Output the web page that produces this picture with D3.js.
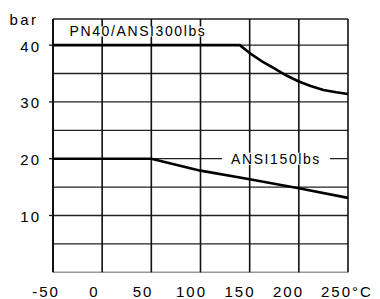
<!DOCTYPE html>
<html><head><meta charset="utf-8">
<script src="https://cdn.jsdelivr.net/npm/d3@7"></script>
<style>body{margin:0;background:#fff}svg{display:block}text{font-family:"Liberation Sans",Arial,sans-serif;fill:#000}</style>
</head><body><svg id="c" width="380" height="299"></svg>
<script>
const xTicks = [-50, 0, 50, 100, 150, 200, 250];
const yTicks = [10, 20, 30, 40];
const yGrid = [5, 10, 15, 20, 25, 30, 35, 40];
const pn40Temp = [-50, 140, 150, 162, 175, 188, 200, 212, 225, 238, 250];
const pn40Bar = [40, 40, 38.6, 37.2, 35.9, 34.6, 33.6, 32.8, 32.1, 31.7, 31.4];
const ansi150Temp = [-50, 50, 100, 150, 200, 250];
const ansi150Bar = [20, 20, 17.9, 16.4, 14.8, 13.1];
const xUnit = "°C", yUnit = "bar";
const label300 = "PN40/ANSI300lbs", label150 = "ANSI150lbs";

const svg = d3.select("#c");
const x = d3.scaleLinear().domain([-50, 250]).range([53, 348]);
const y = d3.scaleLinear().domain([0, 44.6]).range([272.3, 19]);
const xLab = d3.scaleLinear().domain([-50, 250]).range([46, 337]);

svg.append("g").selectAll("line").data(yGrid).join("line")
  .attr("x1", x(-50)).attr("x2", x(250)).attr("y1", d => y(d)).attr("y2", d => y(d))
  .attr("stroke", "#222").attr("stroke-width", 1.3);
svg.append("line").attr("x1", x(-50)).attr("x2", x(250)).attr("y1", y(44.6)).attr("y2", y(44.6))
  .attr("stroke", "#222").attr("stroke-width", 1.3);
svg.append("line").attr("x1", x(-50)).attr("x2", x(250)).attr("y1", y(0)).attr("y2", y(0))
  .attr("stroke", "#999").attr("stroke-width", 1.5);
svg.append("g").selectAll("line").data(xTicks).join("line")
  .attr("x1", d => x(d)).attr("x2", d => x(d)).attr("y1", y(44.6)).attr("y2", y(0))
  .attr("stroke", "#111").attr("stroke-width", d => d === -50 ? 2 : 1.6);
svg.append("g").selectAll("line").data(yTicks).join("line")
  .attr("x1", x(-50) - 4).attr("x2", x(-50)).attr("y1", d => y(d)).attr("y2", d => y(d))
  .attr("stroke", "#111").attr("stroke-width", 1.3);

const line = d3.line().x(d => x(d[0])).y(d => y(d[1])).curve(d3.curveLinear);
svg.append("path").datum(pn40Temp.map((t, i) => [t, pn40Bar[i]])).attr("d", line)
  .attr("fill", "none").attr("stroke", "#000").attr("stroke-width", 2.6).attr("stroke-linejoin", "round");
svg.append("path").datum(ansi150Temp.map((t, i) => [t, ansi150Bar[i]])).attr("d", line)
  .attr("fill", "none").attr("stroke", "#000").attr("stroke-width", 2.6).attr("stroke-linejoin", "round");

function boxedLabel(txt, cx, cy, padX, padY) {
  const g = svg.append("g");
  const r = g.append("rect").attr("fill", "#fff");
  const t = g.append("text").attr("x", cx).attr("y", cy).attr("text-anchor", "middle")
    .attr("dominant-baseline", "central").style("font-size", "14px").style("letter-spacing", "1.6px").text(txt);
  const b = t.node().getBBox();
  r.attr("x", b.x - padX).attr("y", cy - 5 - padY).attr("width", b.width + 2 * padX).attr("height", 10 + 2 * padY);
}
boxedLabel(label300, 138, y(42.4), 1, 0);
boxedLabel(label150, 276, y(20), 9, 1);

svg.append("g").selectAll("text").data(xTicks).join("text")
  .attr("x", d => xLab(d) - (d === 250 ? 16 : 0)).attr("y", 291)
  .attr("text-anchor", d => d === 250 ? "start" : "middle").attr("dominant-baseline", "central")
  .style("font-size", "15px").style("letter-spacing", "2px")
  .text(d => d === 250 ? d + xUnit : d);
svg.append("g").selectAll("text").data(yTicks).join("text")
  .attr("x", 41).attr("y", d => y(d) + 1).attr("text-anchor", "end").attr("dominant-baseline", "central")
  .style("font-size", "15px").style("letter-spacing", "2px").text(d => d);
svg.append("text").attr("x", 24).attr("y", 19).attr("text-anchor", "middle").attr("dominant-baseline", "central")
  .style("font-size", "15px").style("letter-spacing", "2.5px").text(yUnit);
</script></body></html>
